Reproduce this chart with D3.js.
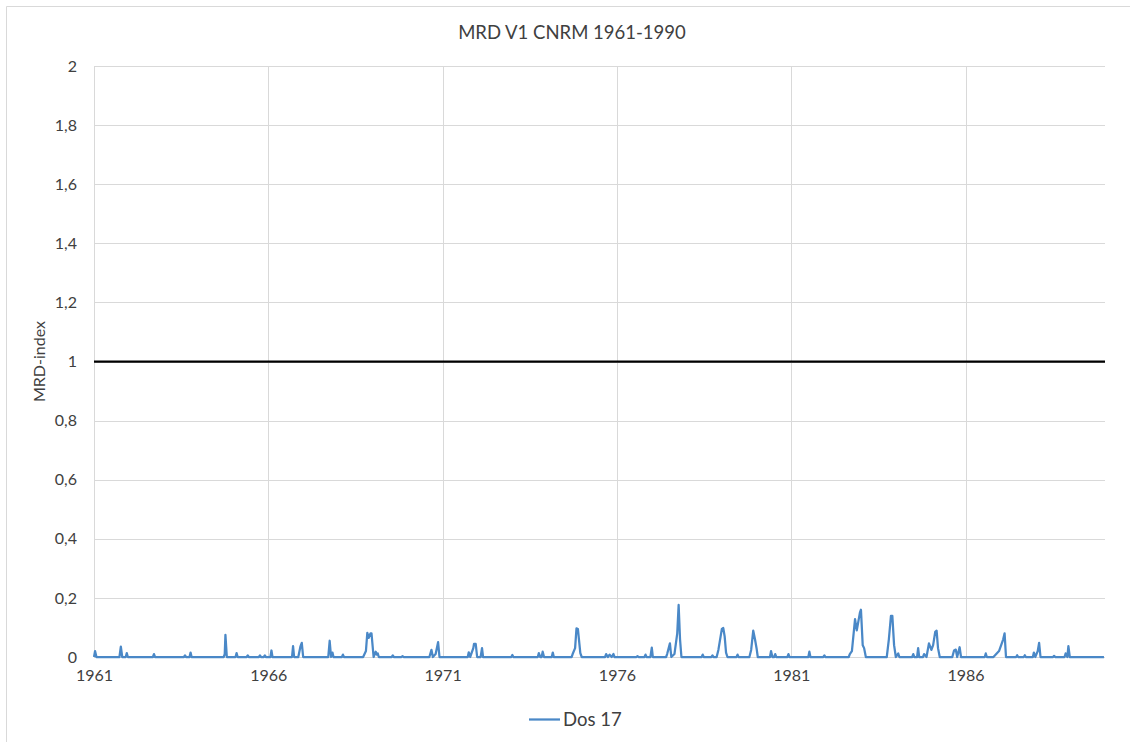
<!DOCTYPE html>
<html>
<head>
<meta charset="utf-8">
<script src="https://cdn.jsdelivr.net/npm/d3@7/dist/d3.min.js"></script>
<style>
  html, body { margin: 0; padding: 0; background: #fff; }
  svg { display: block; }
  text { font-family: Lato, "Open Sans", sans-serif; fill: #404040; }
</style>
</head>
<body>
<svg id="chart" width="1130" height="742"></svg>
<script>
// ---- Data ----
const title = "MRD V1 CNRM 1961-1990";
const yAxisTitle = "MRD-index";
const seriesName = "Dos 17";
const xTickYears = [1961, 1966, 1971, 1976, 1981, 1986];
const yTickValues = [0, 0.2, 0.4, 0.6, 0.8, 1, 1.2, 1.4, 1.6, 1.8, 2];
const thresholdValue = 1;

// decimal years of the "Dos 17" series points
const dates = [
  1961.00, 1961.03, 1961.07,
  1961.73, 1961.77, 1961.81,
  1961.91, 1961.94, 1961.97,
  1962.69, 1962.72, 1962.75,
  1963.58, 1963.61, 1963.64,
  1963.74, 1963.77, 1963.80,
  1964.72, 1964.75, 1964.77, 1964.81,
  1965.06, 1965.09, 1965.12,
  1965.38, 1965.41, 1965.44,
  1965.73, 1965.76, 1965.79,
  1965.87, 1965.90, 1965.93,
  1966.06, 1966.09, 1966.12,
  1966.68, 1966.71, 1966.74,
  1966.86, 1966.92, 1966.96, 1967.00,
  1967.72, 1967.76, 1967.80, 1967.84, 1967.87,
  1968.11, 1968.14, 1968.17,
  1968.72, 1968.80, 1968.84, 1968.88, 1968.93, 1968.96, 1969.02, 1969.08, 1969.11, 1969.14, 1969.17,
  1969.54, 1969.57, 1969.60,
  1969.82, 1969.85, 1969.88,
  1970.62, 1970.68, 1970.72, 1970.80, 1970.87, 1970.91,
  1971.72, 1971.75, 1971.79, 1971.88, 1971.90, 1971.95, 1971.99,
  1972.09, 1972.13, 1972.16,
  1972.97, 1973.00, 1973.03,
  1973.73, 1973.76, 1973.80,
  1973.84, 1973.87, 1973.91,
  1974.13, 1974.16, 1974.19,
  1974.70, 1974.73, 1974.80, 1974.84, 1974.88, 1974.95, 1974.99,
  1975.66, 1975.69, 1975.74, 1975.79, 1975.85, 1975.90, 1975.93,
  1976.56, 1976.59, 1976.62,
  1976.79, 1976.82, 1976.85,
  1976.96, 1977.00, 1977.03,
  1977.41, 1977.44, 1977.52, 1977.56, 1977.65, 1977.73, 1977.77, 1977.81, 1977.85,
  1978.43, 1978.46, 1978.49,
  1978.71, 1978.74, 1978.77,
  1978.86, 1978.91, 1979.01, 1979.05, 1979.09, 1979.13, 1979.17,
  1979.43, 1979.46, 1979.49,
  1979.80, 1979.85, 1979.91, 1979.96, 1980.01, 1980.04,
  1980.39, 1980.42, 1980.46,
  1980.51, 1980.54, 1980.57,
  1980.89, 1980.92, 1980.95,
  1981.49, 1981.52, 1981.55,
  1981.92, 1981.95, 1981.98,
  1982.65, 1982.68, 1982.74, 1982.83, 1982.88, 1982.97, 1983.00, 1983.05, 1983.09, 1983.14,
  1983.74, 1983.80, 1983.86, 1983.90, 1983.95, 1984.00, 1984.07, 1984.10,
  1984.47, 1984.50, 1984.53,
  1984.61, 1984.64, 1984.67,
  1984.78, 1984.81, 1984.88, 1984.95, 1985.02, 1985.07, 1985.13, 1985.17, 1985.21, 1985.26,
  1985.62, 1985.67, 1985.72, 1985.76, 1985.83, 1985.87,
  1986.55, 1986.58, 1986.61,
  1986.80, 1986.96, 1987.08, 1987.12, 1987.16,
  1987.45, 1987.48, 1987.51,
  1987.67, 1987.70, 1987.73,
  1987.93, 1987.96, 1988.00, 1988.07, 1988.11, 1988.15,
  1988.51, 1988.54, 1988.57,
  1988.84, 1988.87, 1988.92, 1988.95, 1988.99,
  1989.97
];
// MRD-index values, one per date above
const values = [
  0.000, 0.020, 0.000,
  0.000, 0.035, 0.000,
  0.000, 0.013, 0.000,
  0.000, 0.010, 0.000,
  0.000, 0.005, 0.000,
  0.000, 0.015, 0.000,
  0.000, 0.010, 0.075, 0.000,
  0.000, 0.013, 0.000,
  0.000, 0.005, 0.000,
  0.000, 0.005, 0.000,
  0.000, 0.005, 0.000,
  0.000, 0.022, 0.000,
  0.000, 0.037, 0.000,
  0.000, 0.035, 0.048, 0.000,
  0.000, 0.055, 0.000, 0.015, 0.000,
  0.000, 0.008, 0.000,
  0.000, 0.020, 0.082, 0.065, 0.080, 0.080, 0.000, 0.018, 0.008, 0.012, 0.000,
  0.000, 0.005, 0.000,
  0.000, 0.003, 0.000,
  0.000, 0.024, 0.000, 0.010, 0.050, 0.000,
  0.000, 0.016, 0.000, 0.030, 0.044, 0.044, 0.000,
  0.000, 0.030, 0.000,
  0.000, 0.007, 0.000,
  0.000, 0.013, 0.000,
  0.000, 0.018, 0.000,
  0.000, 0.015, 0.000,
  0.000, 0.010, 0.030, 0.097, 0.095, 0.013, 0.000,
  0.000, 0.010, 0.000, 0.008, 0.000, 0.010, 0.000,
  0.000, 0.003, 0.000,
  0.000, 0.008, 0.000,
  0.000, 0.032, 0.000,
  0.000, 0.010, 0.046, 0.000, 0.010, 0.080, 0.176, 0.060, 0.000,
  0.000, 0.008, 0.000,
  0.000, 0.005, 0.000,
  0.000, 0.024, 0.095, 0.098, 0.070, 0.015, 0.000,
  0.000, 0.008, 0.000,
  0.000, 0.024, 0.089, 0.060, 0.026, 0.000,
  0.000, 0.020, 0.000,
  0.000, 0.010, 0.000,
  0.000, 0.010, 0.000,
  0.000, 0.018, 0.000,
  0.000, 0.005, 0.000,
  0.000, 0.010, 0.020, 0.128, 0.090, 0.150, 0.160, 0.040, 0.030, 0.000,
  0.000, 0.060, 0.139, 0.139, 0.040, 0.000, 0.012, 0.000,
  0.000, 0.010, 0.000,
  0.000, 0.030, 0.000,
  0.000, 0.010, 0.000, 0.046, 0.024, 0.040, 0.085, 0.089, 0.030, 0.000,
  0.000, 0.022, 0.025, 0.000, 0.033, 0.000,
  0.000, 0.012, 0.000,
  0.000, 0.020, 0.060, 0.080, 0.000,
  0.000, 0.006, 0.000,
  0.000, 0.006, 0.000,
  0.000, 0.015, 0.000, 0.020, 0.048, 0.000,
  0.000, 0.004, 0.000,
  0.000, 0.012, 0.000, 0.037, 0.000,
  0.000
];

// ---- Layout ----
const svg = d3.select("#chart");
const plot = { left: 94, right: 1105, top: 66, bottom: 657 };

// chart area border (top & left visible)
svg.append("path")
  .attr("d", `M6.5,742 V6.5 H1130`)
  .attr("fill", "none").attr("stroke", "#d9d9d9").attr("stroke-width", 1);

const x = d3.scaleLinear().domain([1961, 1990]).range([plot.left, plot.right]);
const y = d3.scaleLinear().domain([0, 2]).range([plot.bottom, plot.top]);

// horizontal gridlines
svg.append("g").selectAll("line").data(yTickValues).join("line")
  .attr("x1", plot.left).attr("x2", plot.right)
  .attr("y1", d => Math.round(y(d)) + 0.5).attr("y2", d => Math.round(y(d)) + 0.5)
  .attr("stroke", "#d9d9d9").attr("stroke-width", 1);

// vertical gridlines
svg.append("g").selectAll("line").data(xTickYears).join("line")
  .attr("x1", d => Math.round(x(d)) + 0.5).attr("x2", d => Math.round(x(d)) + 0.5)
  .attr("y1", plot.top).attr("y2", plot.bottom)
  .attr("stroke", "#d9d9d9").attr("stroke-width", 1);

// Y axis labels
const fmt = d => d3.format(".1~f")(d).replace(".", ",");
const yAxis = d3.axisLeft(y).tickValues(yTickValues).tickFormat(fmt).tickSize(0).tickPadding(17);
const gy = svg.append("g").attr("transform", `translate(${plot.left},0)`).call(yAxis);
gy.select(".domain").remove();
gy.selectAll("text").attr("font-size", 16).attr("fill", "#595959")
  .style("font-family", "Lato, 'Open Sans', sans-serif");

// X axis labels
const xAxis = d3.axisBottom(x).tickValues(xTickYears).tickFormat(d3.format("d")).tickSize(0).tickPadding(13);
const gx = svg.append("g").attr("transform", `translate(0,${plot.bottom})`).call(xAxis);
gx.select(".domain").remove();
gx.selectAll("text").attr("font-size", 16).attr("fill", "#595959")
  .style("font-family", "Lato, 'Open Sans', sans-serif");

// threshold line at 1
svg.append("line")
  .attr("x1", plot.left).attr("x2", plot.right)
  .attr("y1", y(thresholdValue)).attr("y2", y(thresholdValue))
  .attr("stroke", "#000").attr("stroke-width", 2.25);

// series line
const pts = dates.map((d, i) => [d, values[i]]);
const line = d3.line().x(d => x(d[0])).y(d => y(d[1]));
svg.append("path").datum(pts)
  .attr("d", line)
  .attr("fill", "none")
  .attr("stroke", "#4a88c7")
  .attr("stroke-width", 2.25)
  .attr("stroke-linejoin", "round");

// title
svg.append("text")
  .attr("x", 572).attr("y", 39)
  .attr("text-anchor", "middle")
  .attr("font-size", 18.5).attr("fill", "#404040")
  .text(title);

// y-axis title
svg.append("text")
  .attr("transform", `translate(45,${(plot.top + plot.bottom) / 2}) rotate(-90)`)
  .attr("text-anchor", "middle")
  .attr("font-size", 16).attr("fill", "#404040")
  .text(yAxisTitle);

// legend
const lg = svg.append("g");
lg.append("line").attr("x1", 529).attr("x2", 560).attr("y1", 719.5).attr("y2", 719.5)
  .attr("stroke", "#4a88c7").attr("stroke-width", 2.25);
lg.append("text").attr("x", 563).attr("y", 726)
  .attr("font-size", 18.5).attr("fill", "#404040").text(seriesName);
</script>
</body>
</html>
